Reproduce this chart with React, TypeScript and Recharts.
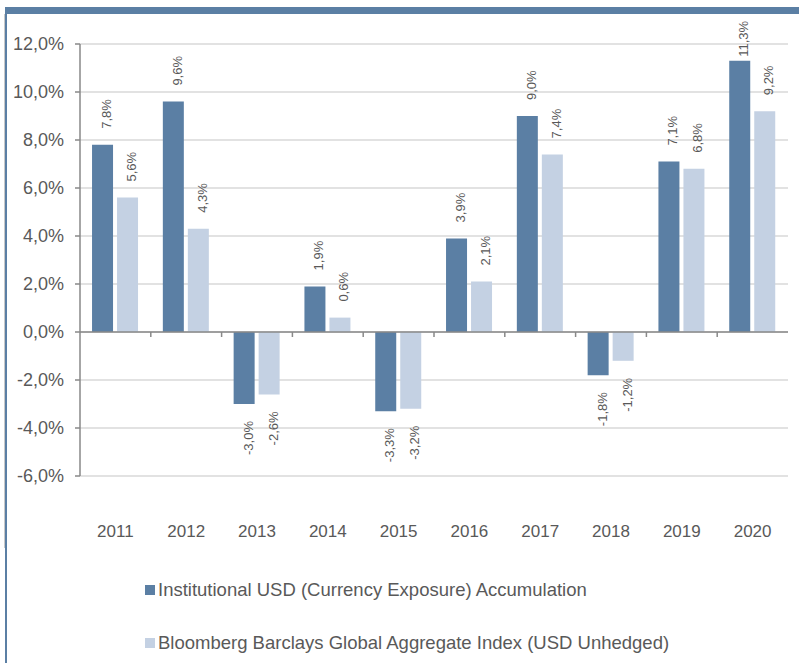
import React from 'react';
import { BarChart, Bar, XAxis, YAxis, CartesianGrid, ReferenceLine, LabelList } from 'recharts';

const years = ['2011', '2012', '2013', '2014', '2015', '2016', '2017', '2018', '2019', '2020'];
const institutional = [7.8, 9.6, -3.0, 1.9, -3.3, 3.9, 9.0, -1.8, 7.1, 11.3];
const bloomberg = [5.6, 4.3, -2.6, 0.6, -3.2, 2.1, 7.4, -1.2, 6.8, 9.2];
const yTicks = [-6, -4, -2, 0, 2, 4, 6, 8, 10, 12];
const seriesNames = [
  'Institutional USD (Currency Exposure) Accumulation',
  'Bloomberg Barclays Global Aggregate Index (USD Unhedged)',
];

const DARK = '#5B7FA4';
const LIGHT = '#C4D1E3';
const TEXT = '#595959';
const AXIS = '#898989';
const GRID = '#D9D9D9';
const FONT = '"Liberation Sans", Arial, sans-serif';
const LABEL_FS = 13;

const data = years.map((year, i) => ({ year, inst: institutional[i], bbg: bloomberg[i] }));

const fmt = (v: number) => v.toFixed(1).replace('.', ',') + '%';

const approxLen = (s: string) => {
  let w = 0;
  for (const ch of s) w += ch === ',' ? 0.278 : ch === '%' ? 0.889 : ch === '-' ? 0.333 : 0.556;
  return w * LABEL_FS;
};

const BarLabel = (props: any) => {
  const { x, y, width, height, value } = props;
  const v = Number(value);
  const txt = fmt(v);
  const cx = Number(x) + Number(width) / 2 + 4;
  const top = Math.min(Number(y), Number(y) + Number(height));
  const bottom = Math.max(Number(y), Number(y) + Number(height));
  let ay = v >= 0 ? top - 16 : bottom + 17;
  if (v >= 0) ay = Math.max(ay, 20 + approxLen(txt));
  return (
    <text
      x={cx}
      y={ay}
      transform={`rotate(-90, ${cx}, ${ay})`}
      textAnchor={v >= 0 ? 'start' : 'end'}
      dominantBaseline="central"
      fontSize={LABEL_FS}
      fontFamily={FONT}
      fill={TEXT}
    >
      {txt}
    </text>
  );
};

const ZeroAxis = (props: any) => {
  const { x1, y1, x2, y2 } = props;
  const n = years.length;
  const step = (x2 - x1) / n;
  const ticks = [];
  for (let i = 1; i < n; i++) {
    const tx = x1 + step * i;
    ticks.push(<line key={i} x1={tx} x2={tx} y1={y1} y2={y1 + 5} stroke={AXIS} strokeWidth={1.5} />);
  }
  return (
    <g>
      <line x1={x1} y1={y1} x2={x2} y2={y2} stroke={AXIS} strokeWidth={1.5} />
      {ticks}
    </g>
  );
};

export default function App() {
  const colors = [DARK, LIGHT];
  return (
    <div style={{ position: 'absolute', left: 0, top: 0, width: 799, height: 663, background: '#fff', fontFamily: FONT }}>
      <div style={{ position: 'absolute', left: 0, top: 0 }}>
        <BarChart
          width={799}
          height={663}
          data={data}
          margin={{ top: 44, right: 11, left: 20, bottom: 117 }}
          barCategoryGap="17%"
          barGap={4}
        >
          <CartesianGrid horizontal vertical={false} stroke={GRID} strokeWidth={1.5} />
          <XAxis
            dataKey="year"
            axisLine={false}
            tickLine={false}
            tickSize={0}
            tickMargin={49}
            height={70}
            interval={0}
            tick={{ fontSize: 17, fill: TEXT, fontFamily: FONT }}
          />
          <YAxis
            width={60}
            domain={[-6, 12]}
            ticks={yTicks}
            interval={0}
            tickFormatter={fmt}
            axisLine={{ stroke: AXIS, strokeWidth: 1.5 }}
            tickLine={{ stroke: AXIS, strokeWidth: 1.5 }}
            tickSize={5}
            tickMargin={11}
            tick={{ fontSize: 18, fill: TEXT, fontFamily: FONT }}
          />
          <ReferenceLine y={0} shape={ZeroAxis} />
          <Bar dataKey="inst" name={seriesNames[0]} fill={DARK} isAnimationActive={false}>
            <LabelList dataKey="inst" content={BarLabel} />
          </Bar>
          <Bar dataKey="bbg" name={seriesNames[1]} fill={LIGHT} isAnimationActive={false}>
            <LabelList dataKey="bbg" content={BarLabel} />
          </Bar>
        </BarChart>
      </div>
      <div style={{ position: 'absolute', left: 5, top: 7, width: 794, height: 7, background: DARK }} />
      <div style={{ position: 'absolute', left: 4, top: 14, width: 1, height: 534, background: '#C8C8C8' }} />
      <div style={{ position: 'absolute', left: 5, top: 7, width: 2, height: 656, background: DARK }} />
      {seriesNames.map((name, i) => (
        <div
          key={name}
          style={{
            position: 'absolute',
            left: 145,
            top: 578 + i * 53,
            height: 24,
            display: 'flex',
            alignItems: 'center',
            fontSize: 18.5,
            color: TEXT,
            whiteSpace: 'nowrap',
          }}
        >
          <span style={{ display: 'inline-block', width: 10, height: 10, background: colors[i], marginRight: 3 }} />
          <span>{name}</span>
        </div>
      ))}
    </div>
  );
}
